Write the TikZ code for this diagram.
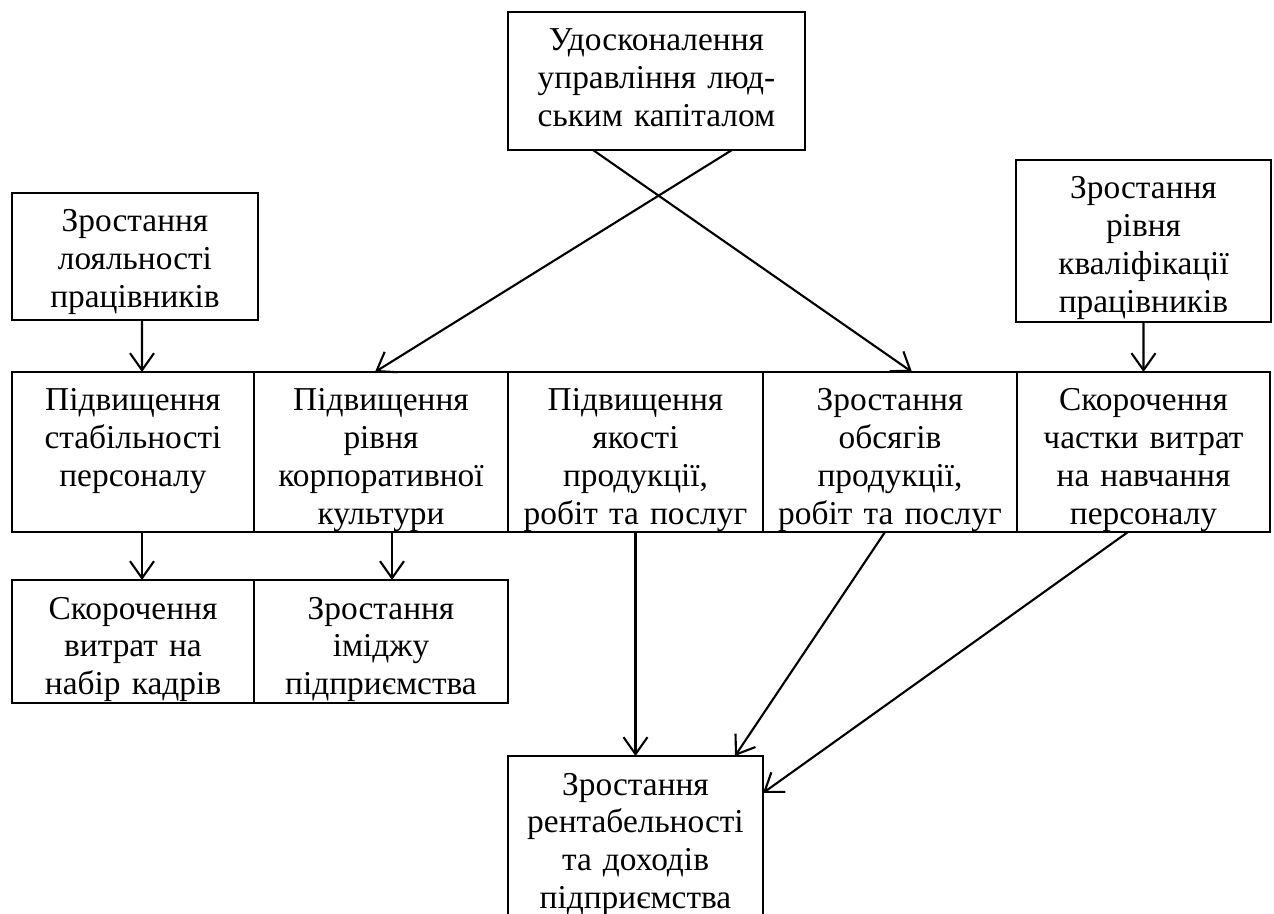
\documentclass[tikz,border=0pt]{standalone}
\usepackage{fontspec}
\setmainfont{Liberation Serif}
\usepackage{tikz}
\usetikzlibrary{arrows.meta, positioning}
\tikzstyle{block} = [rectangle, draw, line width=1.3pt, inner xsep=0.1cm, inner ysep=0pt, outer sep=0pt, align=center, text height=0.78cm, font=\fontsize{19}{21.5}\selectfont]
\tikzstyle{arrow} = [line width=1.2pt,->,>={Straight Barb[length=0.34cm,width=0.48cm]}]

\begin{document}
\begin{tikzpicture}[node distance=0pt]
        \useasboundingbox (0,0) rectangle (25.48,-18.28);
        \node (hc_mgmt) [block, anchor=north west, text width=5.74cm, text depth=1.98cm] at (10.16,-0.24) {Удосконалення\\управління люд-\\ським капіталом};
        \node (loyalty) [block, anchor=north west, text width=4.72cm, text depth=1.76cm] at (0.24,-3.86) {Зростання\\лояльності\\працівників};
        \node (qualif) [block, anchor=north west, text width=4.90cm, text depth=2.46cm] at (20.32,-3.2) {Зростання\\рівня\\кваліфікації\\працівників};

        \node (stability) [block, anchor=north west, text width=4.64cm, text depth=2.42cm] at (0.24,-7.44) {Підвищення\\стабільності\\персоналу};
        \node (culture) [block, right=of stability, text width=4.88cm, text depth=2.42cm] {Підвищення\\рівня\\корпоративної\\культури};
        \node (quality) [block, right=of culture, text width=4.90cm, text depth=2.42cm] {Підвищення\\якості\\продукції,\\робіт та послуг};
        \node (volume) [block, right=of quality, text width=4.88cm, text depth=2.42cm] {Зростання\\обсягів\\продукції,\\робіт та послуг};
        \node (training) [block, right=of volume, text width=4.86cm, text depth=2.42cm] {Скорочення\\частки витрат\\на навчання\\персоналу};

        \node (hiring) [block, below=0.96cm of stability, text width=4.64cm, text depth=1.68cm] {Скорочення\\витрат на\\набір кадрів};
        \node (image) [block, right=of hiring, text width=4.88cm, text depth=1.68cm] {Зростання\\іміджу\\підприємства};
        \node (profit) [block, below=4.48cm of quality, text width=4.90cm, text depth=2.70cm] {Зростання\\рентабельності\\та доходів\\підприємства};

        \draw [arrow] ([xshift=1.51cm]hc_mgmt.south) -- ([xshift=-0.12cm]culture.north);
        \draw [arrow] ([xshift=-1.27cm]hc_mgmt.south) -- ([xshift=0.44cm]volume.north);
        \draw [arrow] ([xshift=0.14cm]loyalty.south) -- ([xshift=0.18cm]stability.north);
        \draw [arrow] (qualif.south) -- (training.north);
        \draw [arrow] ([xshift=0.18cm]stability.south) -- ([xshift=0.18cm]hiring.north);
        \draw [arrow] ([xshift=0.22cm]culture.south) -- ([xshift=0.22cm]image.north);
        \draw [arrow] (quality.south) -- (profit.north);
        \draw [arrow] ([xshift=-0.1cm]volume.south) -- ([xshift=1.99cm]profit.north);
        \draw [arrow] ([xshift=-0.31cm]training.south) -- ([yshift=-0.74cm]profit.north east);
    \end{tikzpicture}
\end{document}
